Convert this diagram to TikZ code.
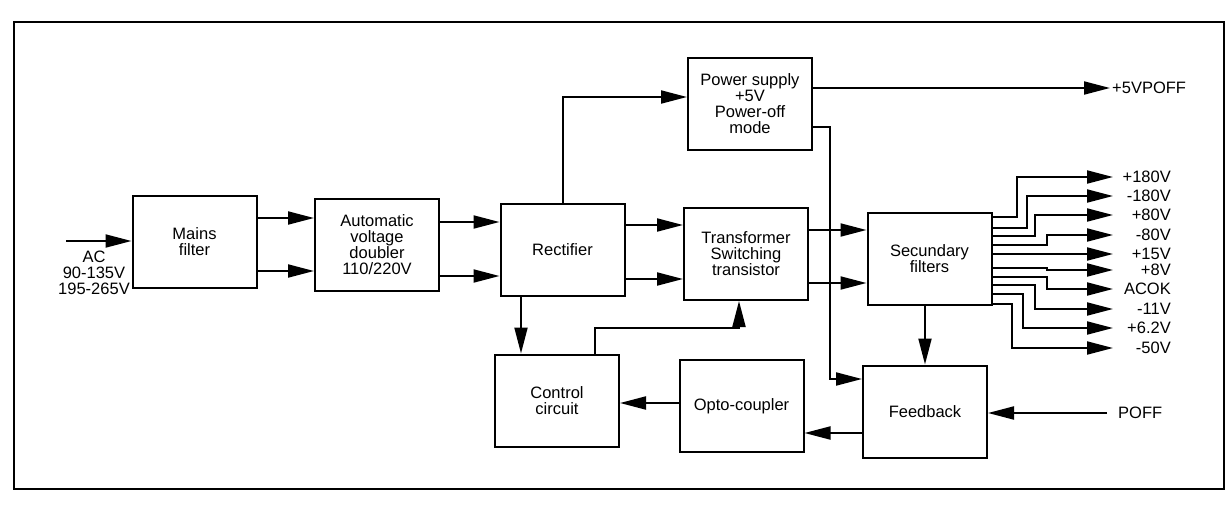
\documentclass[tikz,border=0pt]{standalone}
\usepackage{fontspec}
\setmainfont{Liberation Sans}
\usetikzlibrary{arrows.meta}
\begin{document}
\begin{tikzpicture}[x=1pt,y=-1pt,
  box/.style={draw,line width=2pt,minimum width=124pt,minimum height=92pt,align=center,inner sep=0pt,font=\fontsize{16.5}{16}\selectfont},
  conn/.style={line width=2pt,-{Triangle[length=26pt,width=13pt]}},
  lbl/.style={font=\fontsize{16.5}{16}\selectfont,inner sep=0pt,align=center},
  olbl/.style={font=\fontsize{16.5}{16}\selectfont,inner sep=0pt}]
\useasboundingbox (0,0) rectangle (1227,504);
\draw[line width=2pt] (14,22) rectangle (1224,489);

\node[box] (mains) at (194.5,241.5) {Mains\\filter};
\node[box] (avd) at (377,244.5) {Automatic\\voltage\\doubler\\110/220V};
\node[box] (rect) at (562.5,250) {Rectifier};
\node[box] (psu) at (750,104) {Power supply\\+5V\\Power-off\\mode};
\node[box] (trans) at (746,254) {Transformer\\Switching\\transistor};
\node[box] (sec) at (929.5,259) {Secundary\\filters};
\node[box] (ctrl) at (557,400.5) {Control\\circuit};
\node[box] (opto) at (741.5,406) {Opto-coupler};
\node[box] (fb) at (925,411.5) {Feedback};

% input
\coordinate (acin) at (66,241);
\node[lbl] (aclbl) at (94,273) {AC\\90-135V\\195-265V};
\draw[conn] (acin) -- (acin -| mains.west);

\draw[conn] (mains.east |- 0,218) -- (avd.west |- 0,218);
\draw[conn] (mains.east |- 0,271) -- (avd.west |- 0,271);
\draw[conn] (avd.east |- 0,222) -- (rect.west |- 0,222);
\draw[conn] (avd.east |- 0,276) -- (rect.west |- 0,276);
\draw[conn] (rect.east |- 0,225) -- (trans.west |- 0,225);
\draw[conn] (rect.east |- 0,279) -- (trans.west |- 0,279);
\draw[conn] (trans.east |- 0,230) -- (sec.west |- 0,230);
\draw[conn] (trans.east |- 0,283) -- (sec.west |- 0,283);

% rectifier to power supply
\draw[conn] (rect.north -| 563,0) |- (psu.west |- 0,97);
% +5VPOFF
\coordinate (t5) at (1110,88);
\node[olbl,anchor=west] (l5) at (1112,88) {+5VPOFF};
\draw[conn] (psu.east |- t5) -- (t5);
% power supply to feedback
\draw[conn] (psu.east |- 0,127) -| (830,379) -- (fb.west |- 0,379);

% rectifier to control
\draw[conn] (rect.south -| 521,0) -- (ctrl.north -| 521,0);
% control to transformer
\draw[conn] (ctrl.north -| 595,0) |- (739,328) -- (trans.south -| 739,0);
% secundary to feedback
\draw[conn] (sec.south -| 925,0) -- (fb.north -| 925,0);
% feedback to opto
\draw[conn] (fb.west |- 0,433) -- (opto.east |- 0,433);
% opto to control
\draw[conn] (opto.west |- 0,403) -- (ctrl.east |- 0,403);
% POFF
\coordinate (poff) at (1107,413);
\node[olbl,anchor=west] (poffl) at (1118,413) {POFF};
\draw[conn] (poff) -- (fb.east |- poff);

% secundary outputs
\foreach \ys/\bx/\ye/\t [count=\i] in {
  217/1017/177/{+180V},
  228/1027/196/{-180V},
  236/1035/215/{+80V},
  245/1047/235/{-80V},
  254/1047/254/{+15V},
  268/1047/270/{+8V},
  277/1047/289/{ACOK},
  285/1035/309/{-11V},
  294/1023/328/{+6.2V},
  304/1012/348/{-50V}} {
  \coordinate (t\i) at (1113,\ye);
  \node[olbl,anchor=east] (l\i) at (1171,\ye) {\t};
  \draw[conn] (sec.east |- 0,\ys) -| (\bx,\ye) -- (t\i);
}
\end{tikzpicture}
\end{document}
